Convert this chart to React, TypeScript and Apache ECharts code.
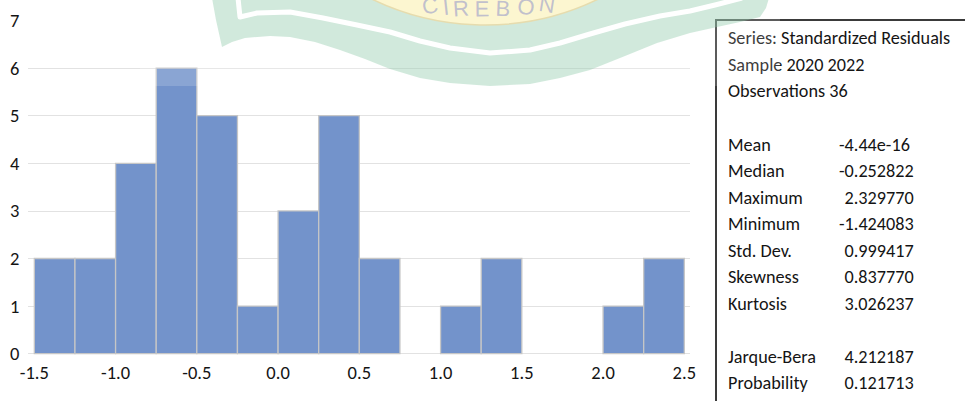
import { useEffect, useRef } from "react";
import * as echarts from "echarts";

// ---- data ----
const binStarts = [-1.5, -1.25, -1.0, -0.75, -0.5, -0.25, 0.0, 0.25, 0.5, 0.75, 1.0, 1.25, 1.5, 1.75, 2.0, 2.25];
const binWidth = 0.25;
const counts = [2, 2, 4, 6, 5, 1, 3, 5, 2, 0, 1, 2, 0, 0, 1, 2];
const xTickValues = [-1.5, -1.0, -0.5, 0.0, 0.5, 1.0, 1.5, 2.0, 2.5];
const yMax = 7;

const headerLines = ["Series: Standardized Residuals", "Sample 2020 2022", "Observations 36"];
const statNames = ["Mean", "Median", "Maximum", "Minimum", "Std. Dev.", "Skewness", "Kurtosis"];
const statValues = ["-4.44e-16", "-0.252822", "2.329770", "-1.424083", "0.999417", "0.837770", "3.026237"];
const testNames = ["Jarque-Bera", "Probability"];
const testValues = ["4.212187", "0.121713"];
const watermarkWord = "CIREBON";

const FONT = "Carlito, Lato, 'Open Sans', sans-serif";
const TEXT = "#141414";

export default function App() {
  const ref = useRef<HTMLDivElement>(null);
  useEffect(() => {
    if (!ref.current) return;
    const chart = echarts.init(ref.current, null, { renderer: "svg" });

    const data = binStarts.map((s, i) => [s, s + binWidth, counts[i]]);

    // stats box texts
    const boxX = 728;
    const rowY = (k: number) => 38.3 + k * 26.55;
    const fs = 18.2;
    const boxTexts: any[] = [];
    headerLines.forEach((t, i) =>
      boxTexts.push({ type: "text", x: boxX, y: rowY(i), z: 10, style: { text: t, font: `${fs}px ${FONT}`, fill: TEXT, textVerticalAlign: "middle" } })
    );
    const addRows = (names: string[], vals: string[], start: number) => {
      names.forEach((n, i) => {
        boxTexts.push({ type: "text", x: boxX, y: rowY(start + i), z: 10, style: { text: n, font: `${fs}px ${FONT}`, fill: TEXT, textVerticalAlign: "middle" } });
        const v = vals[i];
        boxTexts.push({ type: "text", x: v.startsWith("-") ? 839 : 844.5, y: rowY(start + i), z: 10, style: { text: v, font: `${fs}px ${FONT}`, fill: TEXT, textVerticalAlign: "middle" } });
      });
    };
    addRows(statNames, statValues, 4);
    addRows(testNames, testValues, 12);

    // watermark letters along an arc
    const letterX = [430, 446, 461, 482, 503, 526, 547];
    const letterBase = [14, 15.5, 16.5, 17, 16.5, 15, 12.5];
    const letters = watermarkWord.split("").map((ch, i) => {
      const dx = letterX[i] - 487;
      return {
        type: "text",
        x: letterX[i],
        y: letterBase[i] - 8,
        rotation: -dx / 380,
        z: 104,
        silent: true,
        style: { text: ch, font: `22px 'Liberation Sans', Arial, sans-serif`, fill: "rgba(190,189,204,0.95)", textAlign: "center", textVerticalAlign: "middle" },
      };
    });

    const greenBand = [
      [212, -2], [216, 20], [222, 47], [232, 42], [245, 38], [270, 36], [290, 37], [315, 42], [340, 50],
      [365, 59], [390, 69], [420, 78], [450, 83], [490, 86], [530, 84], [560, 78], [590, 70], [625, 56],
      [657, 43], [690, 33], [717, 27], [740, 22], [760, 17], [766, 8], [769, -2],
    ];
    const stripe = [
      [238, -2], [240, 17], [257, 13], [290, 12], [323, 18], [357, 25], [390, 32], [420, 41], [450, 48],
      [490, 53], [530, 50], [560, 43], [590, 34], [625, 24], [660, 16], [690, 11], [715, 5], [742, -2],
    ];

    chart.setOption({
      animation: false,
      backgroundColor: "#ffffff",
      grid: { left: 28, right: 275, top: 20.5, bottom: 47.3, containLabel: false },
      xAxis: {
        type: "value",
        min: -1.539,
        max: 2.535,
        axisLine: { show: false },
        axisTick: { show: false },
        splitLine: { show: false },
        axisLabel: {
          customValues: xTickValues,
          formatter: (v: number) => v.toFixed(1),
          fontFamily: FONT,
          fontSize: 18.5,
          color: TEXT,
          margin: 9,
          showMinLabel: true,
          showMaxLabel: true,
        },
      },
      yAxis: {
        type: "value",
        min: 0,
        max: yMax,
        interval: 1,
        axisLine: { show: false },
        axisTick: { show: false },
        axisLabel: { fontFamily: FONT, fontSize: 18.5, color: TEXT, align: "left", margin: 18 },
        splitLine: {
          show: true,
          showMaxLine: false,
          lineStyle: { color: ["#e2e2e2", "#e2e2e2", "#e2e2e2", "#e2e2e2", "#e2e2e2", "#e2e2e2", "#e2e2e2", "transparent"], width: 1.2 },
        },
      },
      series: [
        {
          type: "custom",
          data,
          encode: { x: [0, 1], y: 2 },
          renderItem: (_params: any, api: any) => {
            const c = api.value(2);
            if (!c) return null;
            const p0 = api.coord([api.value(0), c]);
            const p1 = api.coord([api.value(1), 0]);
            return {
              type: "rect",
              shape: { x: p0[0], y: p0[1], width: p1[0] - p0[0], height: p1[1] - p0[1] },
              style: { fill: "#7393cb", stroke: "#c6c6c6", lineWidth: 1.3 },
            };
          },
        },
      ],
      graphic: [
        { type: "rect", z: 5, shape: { x: 716, y: 20, width: 300, height: 420 }, style: { fill: "#ffffff", stroke: "#3a3a3a", lineWidth: 2 } },
        ...boxTexts,
        // watermark
        { type: "rect", z: 100, silent: true, shape: { x: 140, y: -2, width: 640, height: 88 }, style: { fill: "rgba(255,255,255,0.17)" } },
        { type: "polygon", z: 101, silent: true, shape: { points: greenBand }, style: { fill: "rgba(140,200,168,0.40)" } },
        { type: "polyline", z: 102, silent: true, shape: { points: stripe }, style: { stroke: "#ffffff", lineWidth: 5, fill: null, lineJoin: "round" } },
        { type: "circle", z: 103, silent: true, shape: { cx: 485, cy: -235, r: 260 }, style: { fill: "#fcf6d0", stroke: "#e6dcae", lineWidth: 1.5 } },
        ...letters,
      ],
    });
    return () => chart.dispose();
  }, []);
  return <div ref={ref} style={{ position: "fixed", left: 0, top: 0, width: 965, height: 401 }} />;
}
